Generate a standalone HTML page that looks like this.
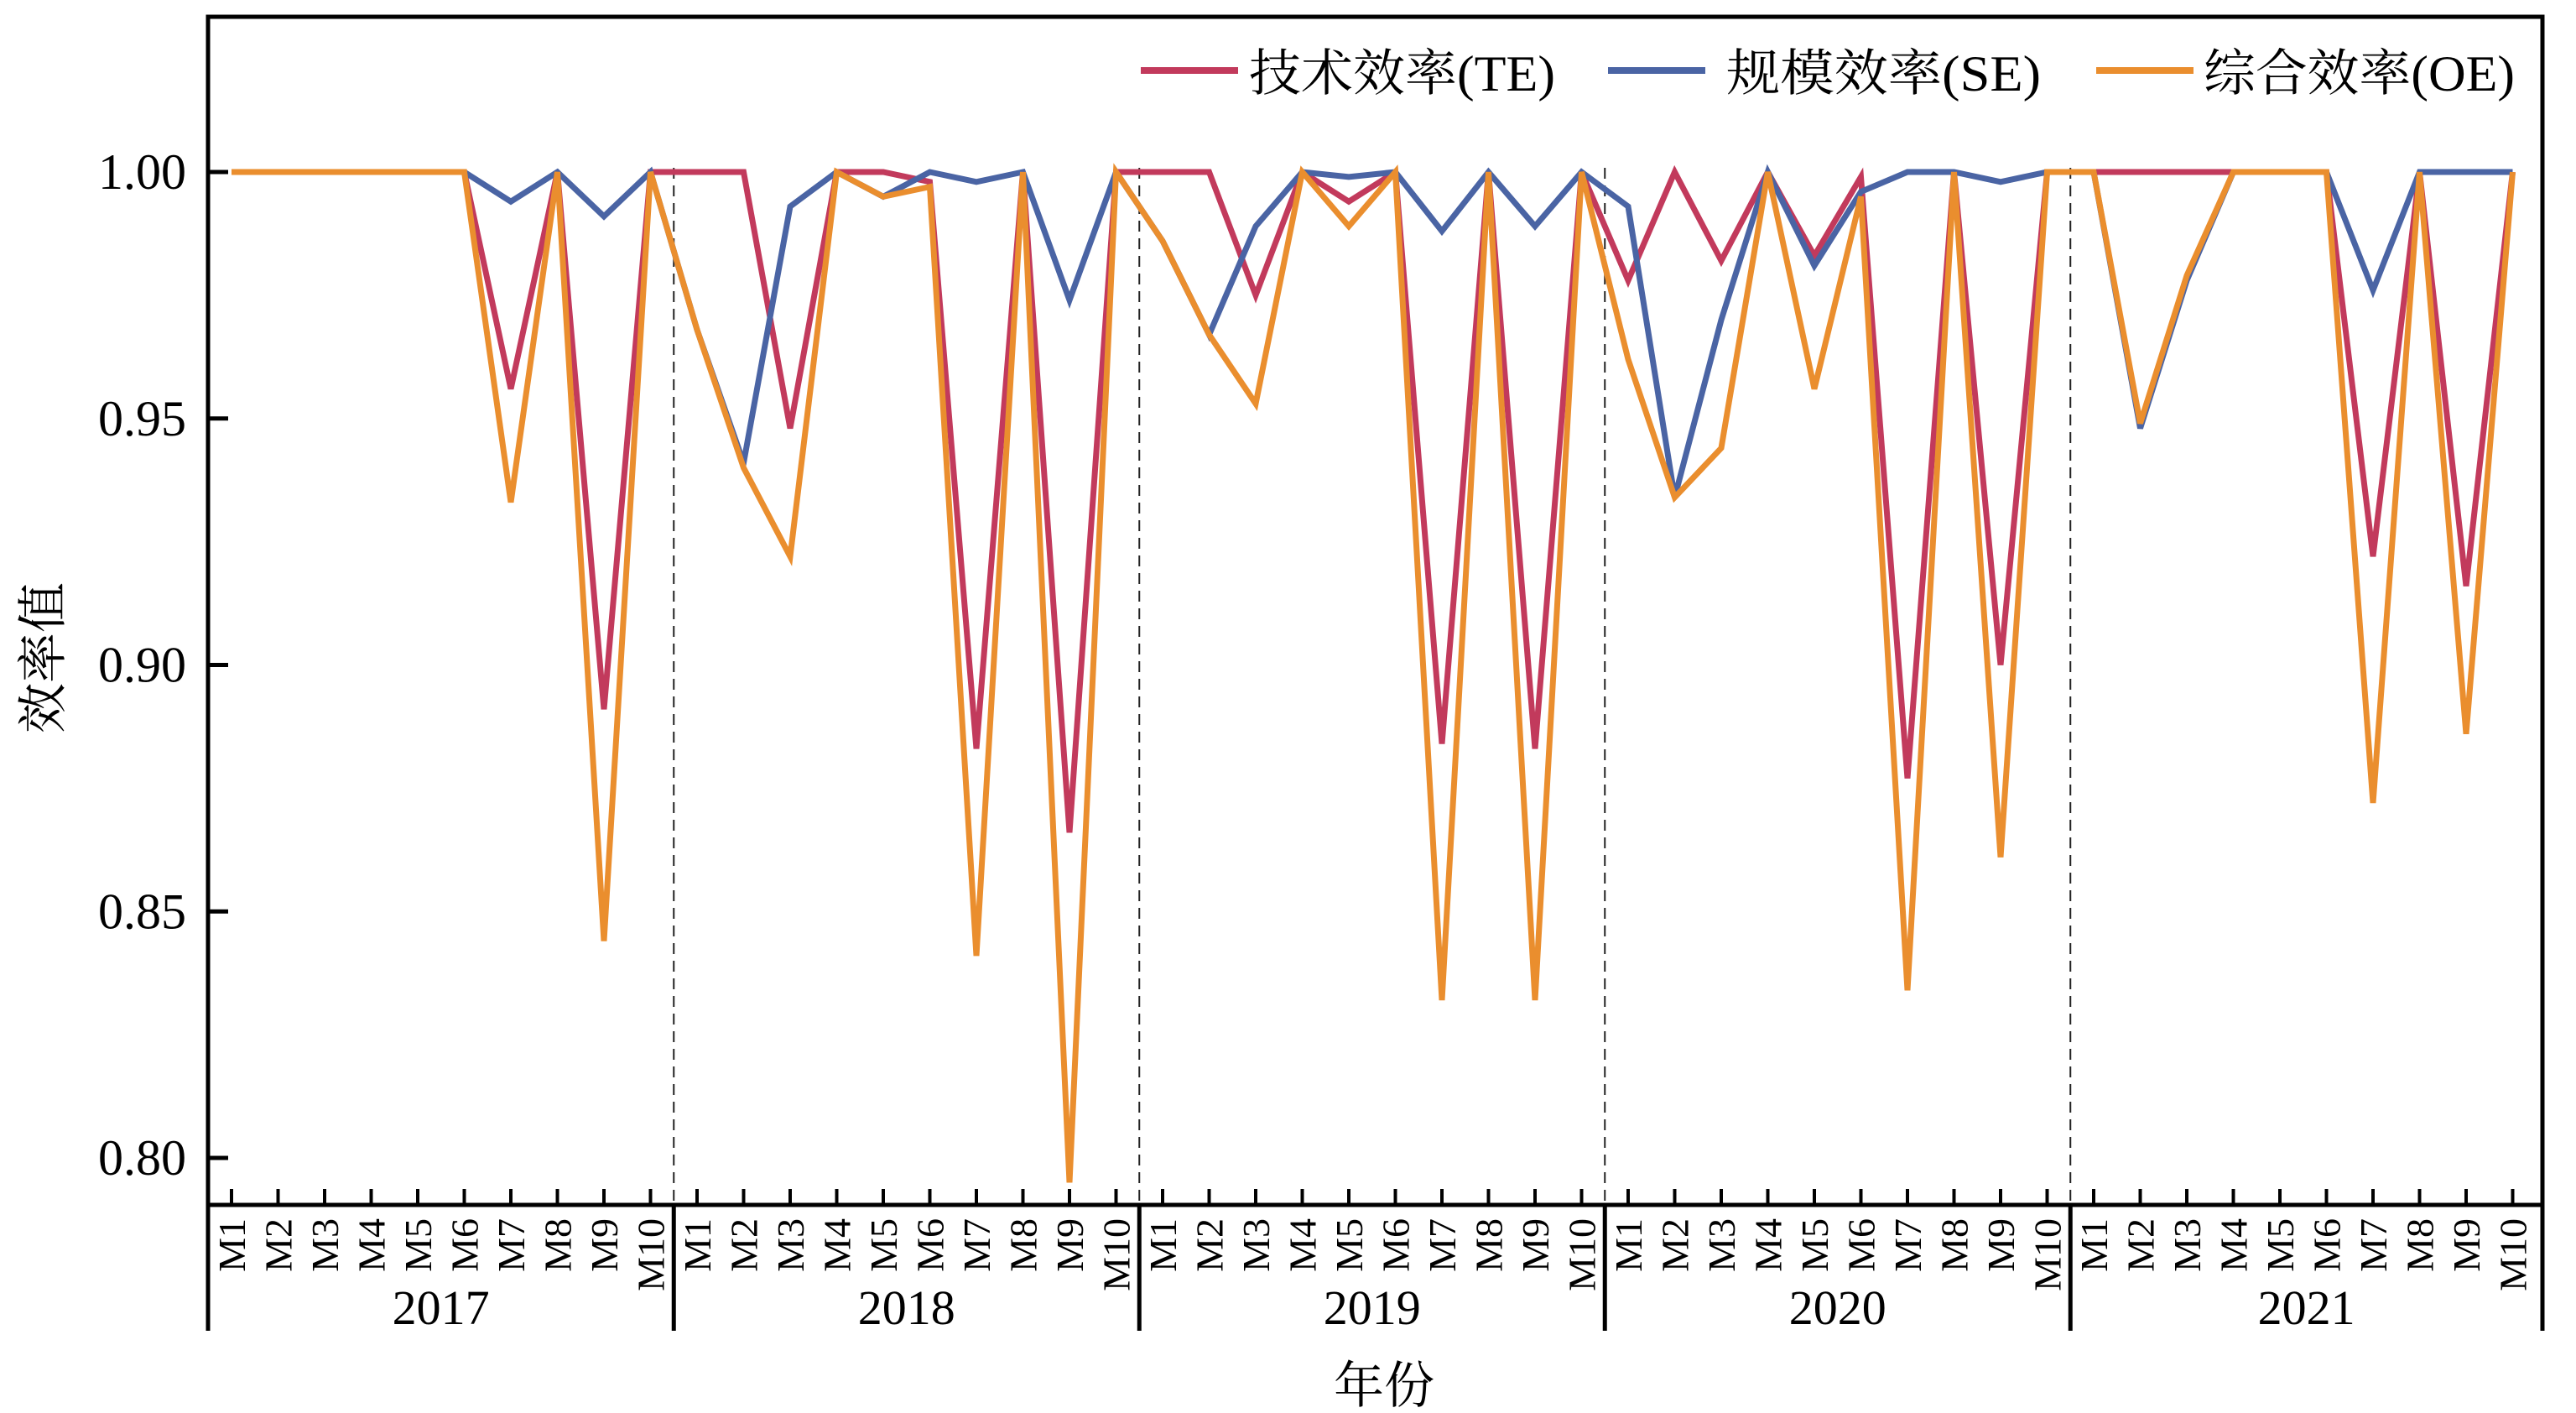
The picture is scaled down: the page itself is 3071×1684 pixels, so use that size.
<!DOCTYPE html>
<html><head><meta charset="utf-8"><style>
html,body{margin:0;padding:0;background:#fff;}
svg{display:block;}
text{font-family:"Liberation Serif","Noto Serif CJK SC",serif;fill:#000;}
</style></head><body>
<svg id="s" width="3071" height="1684" viewBox="0 0 3071 1684" xmlns="http://www.w3.org/2000/svg"></svg>
<script>
const s=document.getElementById('s');
const L=248,R=3031,T=20,B=1436;
const Y=v=>205+(1-v)/0.05*293.75;
const X=i=>276+i*55.5;
const TE=[1,1,1,1,1,1,0.956,1,0.891,1, 1,1,0.948,1,1,0.998,0.883,1,0.866,1, 1,1,0.975,1,0.994,1,0.884,1,0.883,1, 0.978,1,0.982,1,0.983,0.999,0.877,1,0.900,1, 1,1,1,1,1,1,0.922,1,0.916,1];
const SE=[1,1,1,1,1,1,0.994,1,0.991,1, 0.968,0.941,0.993,1,0.995,1,0.998,1,0.974,1, 0.986,0.967,0.989,1,0.999,1,0.988,1,0.989,1, 0.993,0.934,0.970,1,0.981,0.996,1,1,0.998,1, 1,0.948,0.978,1,1,1,0.976,1,1,1];
const OE=[1,1,1,1,1,1,0.933,1,0.844,1, 0.968,0.940,0.922,1,0.995,0.997,0.841,1,0.795,1, 0.986,0.967,0.953,1,0.989,1,0.832,1,0.832,1, 0.962,0.934,0.944,1,0.956,0.995,0.834,1,0.861,1, 1,0.949,0.979,1,1,1,0.872,1,0.886,1];
let h='';
for(let k=1;k<5;k++){const x=X(k*10-0.5);h+=`<line x1="${x}" y1="200" x2="${x}" y2="${B}" stroke="#222" stroke-width="2" stroke-dasharray="13,8"/>`;}
const line=(d,c)=>{h+=`<polyline fill="none" stroke="${c}" stroke-width="7" stroke-linejoin="miter" points="${d.map((v,i)=>X(i)+','+Y(v)).join(' ')}"/>`;};
line(TE,'#C23A5C');line(SE,'#4A64A4');line(OE,'#EA8E2E');
h+=`<rect x="${L}" y="${T}" width="${R-L}" height="${B-T}" fill="none" stroke="#000" stroke-width="5"/>`;
[1,0.95,0.9,0.85,0.8].forEach(v=>{const y=Y(v);h+=`<line x1="${L}" y1="${y}" x2="${L+24}" y2="${y}" stroke="#000" stroke-width="5"/><text x="222" y="${y+20}" font-size="60" text-anchor="end">${v.toFixed(2)}</text>`;});
for(let i=0;i<50;i++){const x=X(i);h+=`<line x1="${x}" y1="${B}" x2="${x}" y2="${B-19}" stroke="#000" stroke-width="4"/>`;
h+=`<text transform="translate(${x+16},1452) rotate(-90)" font-size="46" text-anchor="end">M${i%10+1}</text>`;}
const seps=[L,X(9.5),X(19.5),X(29.5),X(39.5),R];
seps.forEach(x=>{h+=`<line x1="${x}" y1="${B}" x2="${x}" y2="1586" stroke="#000" stroke-width="5"/>`;});
['2017','2018','2019','2020','2021'].forEach((t,k)=>{h+=`<text x="${(seps[k]+seps[k+1])/2}" y="1578" font-size="58" text-anchor="middle">${t}</text>`;});
h+=`<text x="1650" y="1672" font-size="60" text-anchor="middle">年份</text>`;
h+=`<text transform="translate(72,784) rotate(-90)" font-size="60" text-anchor="middle">效率值</text>`;
const lg=[['技术效率(TE)','#C23A5C',1360,1489,365],['规模效率(SE)','#4A64A4',1917,2058,375],['综合效率(OE)','#EA8E2E',2499,2627,371]];
lg.forEach(([t,c,x1,tx,w])=>{h+=`<line x1="${x1}" y1="84" x2="${x1+116}" y2="84" stroke="${c}" stroke-width="8"/><text x="${tx}" y="108" font-size="60" textLength="${w}" lengthAdjust="spacingAndGlyphs">${t}</text>`;});
s.innerHTML=h;
</script>
</body></html>
